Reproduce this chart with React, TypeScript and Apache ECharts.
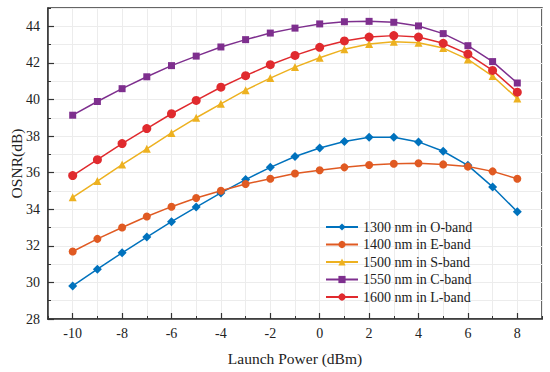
import React, { useEffect, useRef } from "react";
import * as echarts from "echarts";

const launchPower = [-10, -9, -8, -7, -6, -5, -4, -3, -2, -1, 0, 1, 2, 3, 4, 5, 6, 7, 8];
const oBand = [29.81, 30.72, 31.62, 32.48, 33.32, 34.12, 34.89, 35.62, 36.29, 36.88, 37.35, 37.7, 37.94, 37.94, 37.68, 37.17, 36.4, 35.22, 33.86];
const eBand = [31.69, 32.38, 33.0, 33.6, 34.14, 34.61, 35.01, 35.38, 35.67, 35.95, 36.13, 36.29, 36.42, 36.49, 36.51, 36.45, 36.33, 36.07, 35.67];
const sBand = [34.65, 35.54, 36.44, 37.3, 38.17, 39.0, 39.76, 40.51, 41.17, 41.77, 42.28, 42.74, 43.03, 43.16, 43.1, 42.81, 42.19, 41.28, 40.05];
const cBand = [39.14, 39.89, 40.59, 41.24, 41.85, 42.37, 42.87, 43.27, 43.63, 43.9, 44.13, 44.25, 44.27, 44.22, 44.02, 43.6, 42.94, 42.07, 40.9];
const lBand = [35.84, 36.71, 37.59, 38.41, 39.22, 39.95, 40.67, 41.3, 41.9, 42.41, 42.85, 43.2, 43.41, 43.49, 43.41, 43.07, 42.48, 41.59, 40.4];

const seriesNames = ["1300 nm in O-band", "1400 nm in E-band", "1500 nm in S-band", "1550 nm in C-band", "1600 nm in L-band"];
const xMajorTicks = [-10, -8, -6, -4, -2, 0, 2, 4, 6, 8];
const yMajorTicks = [28, 30, 32, 34, 36, 38, 40, 42, 44];

const FONT = "Liberation Serif";
const AXIS_COLOR = "#333";

export default function App() {
  const ref = useRef<HTMLDivElement>(null);
  useEffect(() => {
    if (!ref.current) return;
    const chart = echarts.init(ref.current, undefined, { renderer: "svg" });
    const values = [oBand, eBand, sBand, cBand, lBand];
    const colors = ["#0072BD", "#E05A22", "#EDB120", "#7E2F8E", "#E02A2E"];
    const symbols = ["diamond", "circle", "triangle", "rect", "circle"];
    const sizes = [9, 8, 8, 7, 9];
    const series = values.map((vals, i) => ({
      name: seriesNames[i],
      type: "line",
      xAxisIndex: 0,
      yAxisIndex: 0,
      data: launchPower.map((x, j) => [x, vals[j]]),
      symbol: symbols[i],
      symbolSize: sizes[i],
      lineStyle: { color: colors[i], width: 1.5 },
      itemStyle: { color: colors[i] },
      color: colors[i],
    }));
    chart.setOption({
      animation: false,
      grid: { left: 46, right: 8, top: 8, bottom: 53, show: true, borderColor: AXIS_COLOR, borderWidth: 1.5, containLabel: false },
      legend: {
        orient: "vertical",
        left: 325,
        top: 220,
        padding: 0,
        itemWidth: 32,
        itemHeight: 9,
        itemGap: 3.5,
        data: seriesNames,
        textStyle: { fontFamily: FONT, fontSize: 14, color: "#222", padding: [0, 0, 0, 0] },
      },
      xAxis: [
        {
          type: "value",
          min: -11,
          max: 9,
          interval: 1,
          position: "bottom",
          axisLine: { show: true, onZero: false, lineStyle: { color: AXIS_COLOR, width: 1.5 } },
          axisTick: { show: true, inside: true, length: 3, lineStyle: { color: AXIS_COLOR, width: 1 } },
          axisLabel: { show: false },
          splitLine: { show: true, lineStyle: { color: "#ececec", width: 1 } },
          name: "Launch Power (dBm)",
          nameLocation: "middle",
          nameGap: 31,
          nameTextStyle: { fontFamily: FONT, fontSize: 15.5, color: "#222" },
        },
        {
          type: "value",
          min: -11,
          max: 9,
          position: "bottom",
          axisLine: { show: false, onZero: false },
          axisTick: { show: true, inside: true, length: 6, customValues: xMajorTicks, lineStyle: { color: AXIS_COLOR, width: 1.2 } },
          axisLabel: { show: true, customValues: xMajorTicks, margin: 7, fontFamily: FONT, fontSize: 14, color: "#222" },
          splitLine: { show: false },
        },
      ],
      yAxis: [
        {
          type: "value",
          min: 28,
          max: 45,
          interval: 1,
          position: "left",
          axisLine: { show: true, onZero: false, lineStyle: { color: AXIS_COLOR, width: 1.5 } },
          axisTick: { show: true, inside: true, length: 3, lineStyle: { color: AXIS_COLOR, width: 1 } },
          axisLabel: { show: false },
          splitLine: { show: true, lineStyle: { color: "#ececec", width: 1 } },
          name: "OSNR(dB)",
          nameLocation: "middle",
          nameGap: 24,
          nameTextStyle: { fontFamily: FONT, fontSize: 15.5, color: "#222" },
        },
        {
          type: "value",
          min: 28,
          max: 45,
          position: "left",
          axisLine: { show: false, onZero: false },
          axisTick: { show: true, inside: true, length: 6, customValues: yMajorTicks, lineStyle: { color: AXIS_COLOR, width: 1.2 } },
          axisLabel: { show: true, customValues: yMajorTicks, margin: 8, fontFamily: FONT, fontSize: 14, color: "#222" },
          splitLine: { show: false },
        },
      ],
      series,
    });
    return () => chart.dispose();
  }, []);
  return <div ref={ref} style={{ position: "absolute", left: 0, top: 0, width: 550, height: 372 }} />;
}
